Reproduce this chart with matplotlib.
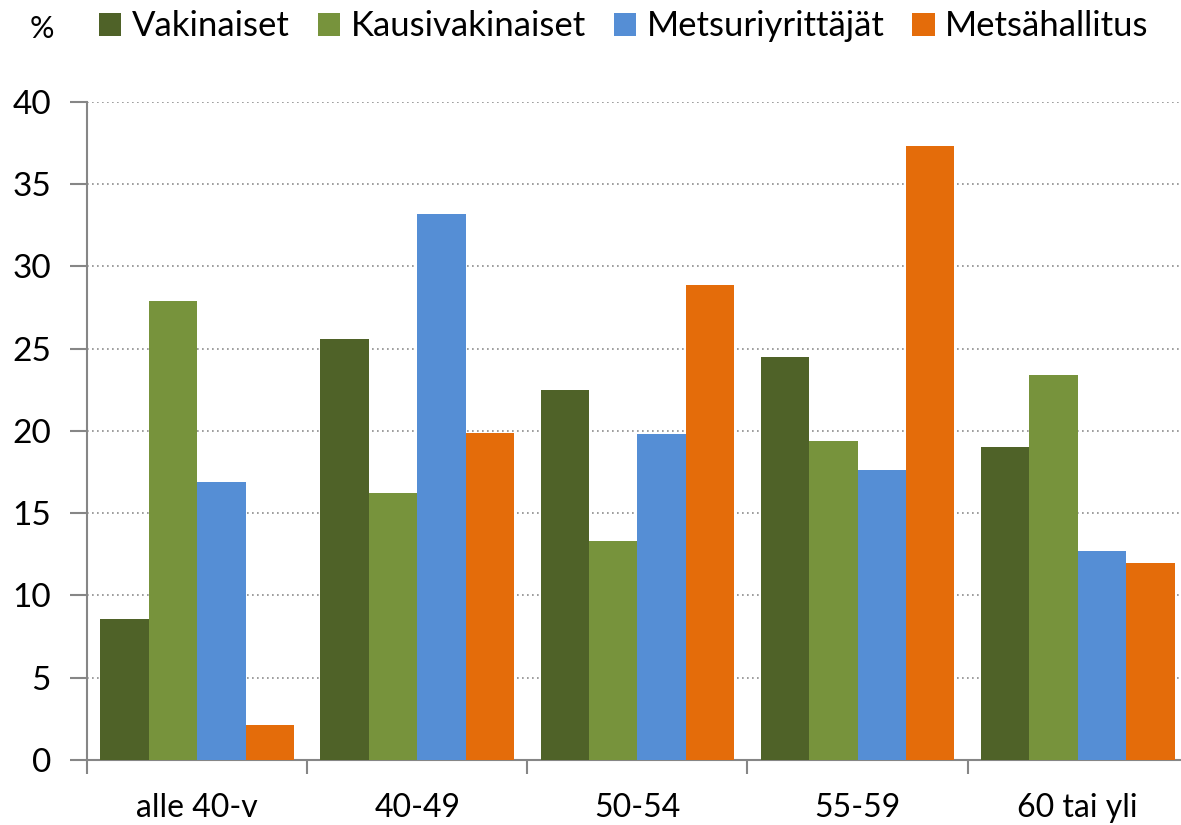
import numpy as np
import matplotlib
matplotlib.use('Agg')
import matplotlib.pyplot as plt

categories = ['alle 40-v', '40-49', '50-54', '55-59', '60 tai yli']
series = ['Vakinaiset', 'Kausivakinaiset', 'Metsuriyrittäjät', 'Metsähallitus']
vakinaiset = [8.6, 25.6, 22.5, 24.5, 19.0]
kausivakinaiset = [27.9, 16.2, 13.3, 19.4, 23.4]
metsuriyrittajat = [16.9, 33.2, 19.8, 17.6, 12.7]
metsahallitus = [2.1, 19.9, 28.9, 37.3, 12.0]
colors = ['#4F6228', '#77933C', '#558ED5', '#E46C0A']

plt.rcParams['font.family'] = ['Lato', 'DejaVu Sans']

fig = plt.figure(figsize=(11.81, 8.25), dpi=100)
ax = fig.add_axes([0.0737, 0.0788, 0.932, 0.7976])

x = np.arange(len(categories))
w = 0.22
data = [vakinaiset, kausivakinaiset, metsuriyrittajat, metsahallitus]
for i, (vals, name, c) in enumerate(zip(data, series, colors)):
    ax.bar(x + (i - 1.5) * w, vals, w, color=c, label=name, zorder=3)

ax.set_xlim(-0.5, len(categories) - 0.5)
ax.set_ylim(0, 40)
ax.set_yticks(range(0, 41, 5))
ax.yaxis.grid(True, linestyle=(0, (1, 2)), color='#8c8c8c', linewidth=1.2, zorder=0)

ax.set_xticks(x)
ax.set_xticklabels(categories)
ax.set_xticks(np.arange(len(categories) + 1) - 0.5, minor=True)
ax.tick_params(axis='x', which='major', length=0, pad=24, labelsize=23)
ax.tick_params(axis='x', which='minor', length=10, width=1.5, color='#868686')
ax.tick_params(axis='y', length=12, width=1.5, color='#868686', labelsize=24, pad=14)

for s in ['top', 'right']:
    ax.spines[s].set_visible(False)
for s in ['left', 'bottom']:
    ax.spines[s].set_color('#868686')
    ax.spines[s].set_linewidth(1.5)

fig.text(0.025, 0.965, '%', fontsize=22, va='center')
fig.legend(loc='center left', bbox_to_anchor=(0.072, 0.968), ncol=4, frameon=False,
           fontsize=25, handlelength=0.65, handleheight=0.65, handletextpad=0.3,
           columnspacing=0.8, borderaxespad=0)

fig.savefig('out.png', dpi=100)
